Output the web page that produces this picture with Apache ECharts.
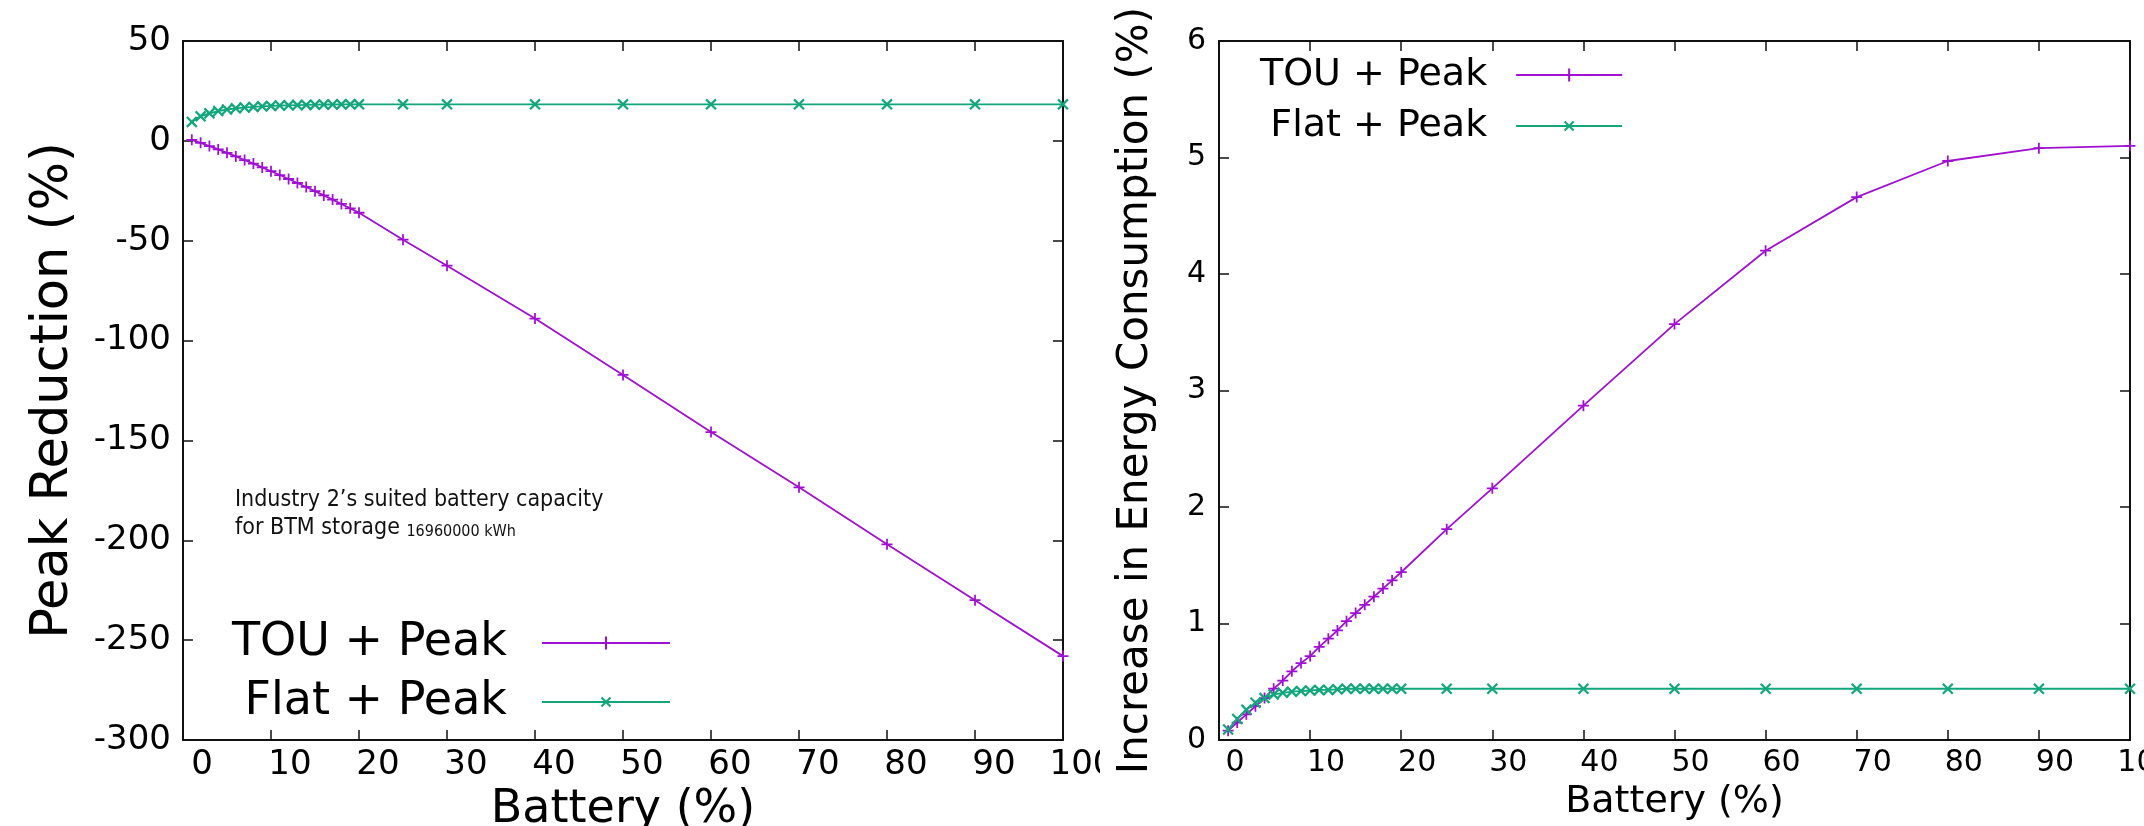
<!DOCTYPE html>
<html>
<head>
<meta charset="utf-8">
<script src="https://cdn.jsdelivr.net/npm/echarts@6/dist/echarts.min.js"></script>
<style>
  body { margin: 0; background: #fff; }
  #leftChart { position: absolute; left: 0; top: 0; width: 1100px; height: 826px; }
  #rightChart { position: absolute; left: 1100px; top: 0; width: 1044px; height: 826px; }
</style>
</head>
<body>
<div id="leftChart"></div>
<div id="rightChart"></div>
<script>
  // battery size, % of the suited capacity
  const battery = [1, 2, 3, 4, 5, 6, 7, 8, 9, 10, 11, 12, 13, 14, 15, 16, 17, 18, 19, 20,
    25, 30, 40, 50, 60, 70, 80, 90, 100]

  // left panel: peak reduction (%)
  const peakTou = [0.5, -1, -2.6, -4.3, -6, -7.8, -9.6, -11.4, -13.3, -15.2, -17.1, -19.1, -21.1, -23.1,
    -25.2, -27.3, -29.4, -31.6, -33.8, -36, -49.5, -62.5, -89, -117.2, -145.8, -173.5, -202, -230, -258]
  const peakFlat = [9.5, 12.3, 13.8, 14.9, 15.7, 16.3, 16.7, 17.0, 17.3, 17.5, 17.7, 17.8, 17.9, 18.0,
    18.1, 18.2, 18.2, 18.3, 18.3, 18.3, 18.3, 18.3, 18.3, 18.3, 18.3, 18.3, 18.3, 18.3, 18.3]

  // right panel: increase in energy consumption (%)
  const energyTou = [0.08, 0.15, 0.22, 0.29, 0.36, 0.44, 0.51, 0.59, 0.66, 0.72, 0.8, 0.87, 0.94, 1.02,
    1.09, 1.16, 1.23, 1.3, 1.37, 1.44, 1.81, 2.16, 2.87, 3.57, 4.2, 4.66, 4.97, 5.08, 5.1]
  const energyFlat = [0.09, 0.18, 0.26, 0.32, 0.36, 0.39, 0.405, 0.415, 0.42, 0.425, 0.43, 0.43, 0.435, 0.44,
    0.44, 0.44, 0.44, 0.44, 0.44, 0.44, 0.44, 0.44, 0.44, 0.44, 0.44, 0.44, 0.44, 0.44, 0.44]

  const seriesNames = ['TOU + Peak', 'Flat + Peak']
  const purple = '#a010d0'
  const green = '#12a67c'
  const font = 'DejaVu Sans'
  const noteFont = '"Liberation Sans Narrow", "DejaVu Sans Condensed", "Liberation Sans"'
  const plusPath = 'path://M0,42h100v16h-100z M42,0h16v100h-16z'

  function pairs(ys) {
    return battery.map((b, i) => [b, ys[i]])
  }

  function buildOption(p) {
    const frame = { show: true, onZero: false, lineStyle: { color: '#111', width: 2 } }
    const tick = { show: true, inside: true, length: 10, lineStyle: { color: '#111', width: 1.5 } }
    const nameStyle = { color: '#000', fontFamily: font }
    return {
      animation: false,
      grid: Object.assign({ containLabel: false, outerBoundsMode: 'none' }, p.grid),
      legend: {
        orient: 'vertical',
        align: 'right',
        left: p.legend.left,
        top: p.legend.top,
        padding: 0,
        itemWidth: p.legend.itemWidth,
        itemHeight: 16,
        itemGap: p.legend.itemGap,
        textStyle: { color: '#000', fontFamily: font, fontSize: p.legend.fontSize, padding: [0, p.legend.textGap, 0, 0] },
        data: seriesNames
      },
      graphic: p.graphic || [],
      xAxis: [
        {
          type: 'value', min: 0, max: 100, interval: 10, position: 'bottom',
          axisLine: frame, axisTick: tick, splitLine: { show: false },
          axisLabel: { color: '#000', fontFamily: font, fontSize: p.xLabelSize, margin: p.xLabelMargin,
            padding: [0, 0, 0, p.xLabelShift * 2] },
          name: 'Battery (%)', nameLocation: 'middle', nameGap: p.xNameGap,
          nameTextStyle: Object.assign({ fontSize: p.xNameSize }, nameStyle)
        },
        {
          type: 'value', min: 0, max: 100, interval: 10, position: 'top',
          axisLine: frame, axisTick: tick, axisLabel: { show: false }, splitLine: { show: false }
        }
      ],
      yAxis: [
        {
          type: 'value', min: p.yMin, max: p.yMax, interval: p.yStep, position: 'left',
          axisLine: frame, axisTick: tick, splitLine: { show: false },
          axisLabel: { color: '#000', fontFamily: font, fontSize: p.yLabelSize, margin: p.yLabelMargin },
          name: p.yName, nameLocation: 'middle', nameGap: p.yNameGap,
          nameTextStyle: Object.assign({ fontSize: p.yNameSize }, nameStyle)
        },
        {
          type: 'value', min: p.yMin, max: p.yMax, interval: p.yStep, position: 'right',
          axisLine: frame, axisTick: tick, axisLabel: { show: false }, splitLine: { show: false }
        }
      ],
      series: [
        {
          name: seriesNames[0], type: 'line', data: pairs(p.tou),
          symbol: plusPath, symbolSize: 11,
          itemStyle: { color: purple },
          lineStyle: { color: purple, width: 1.8 }
        },
        {
          name: seriesNames[1], type: 'line', data: pairs(p.flat),
          symbol: plusPath, symbolSize: 14, symbolRotate: 45,
          itemStyle: { color: green },
          lineStyle: { color: green, width: 1.8 }
        }
      ]
    }
  }

  const leftChart = echarts.init(document.getElementById('leftChart'))
  leftChart.setOption(buildOption({
    grid: { left: 183, top: 41, width: 880, height: 699 },
    tou: peakTou, flat: peakFlat,
    yMin: -300, yMax: 50, yStep: 50,
    yName: 'Peak Reduction (%)', yNameSize: 51, yNameGap: 104,
    yLabelSize: 34, yLabelMargin: 12,
    xLabelSize: 34, xLabelMargin: 8, xLabelShift: 19,
    xNameSize: 46, xNameGap: 47,
    legend: { left: 232, top: 620, itemWidth: 128, itemGap: 13, fontSize: 46, textGap: 30 },
    graphic: [
      { type: 'text', left: 235, top: 489,
        style: { text: 'Industry 2’s suited battery capacity', fill: '#111', font: '23px ' + noteFont } },
      { type: 'text', left: 235, top: 517,
        style: {
          text: '{a|for BTM storage }{b|16960000 kWh}', fill: '#111',
          rich: {
            a: { fontSize: 23, fontFamily: noteFont, fill: '#111', verticalAlign: 'bottom' },
            b: { fontSize: 16, fontFamily: noteFont, fill: '#111', verticalAlign: 'bottom' }
          }
        } }
    ]
  }))

  const rightChart = echarts.init(document.getElementById('rightChart'))
  rightChart.setOption(buildOption({
    grid: { left: 119, top: 41, width: 911, height: 699 },
    tou: energyTou, flat: energyFlat,
    yMin: 0, yMax: 6, yStep: 1,
    yName: 'Increase in Energy Consumption (%)', yNameSize: 42, yNameGap: 62,
    yLabelSize: 30, yLabelMargin: 13,
    xLabelSize: 30, xLabelMargin: 8, xLabelShift: 16,
    xNameSize: 38, xNameGap: 32,
    legend: { left: 160, top: 56, itemWidth: 106, itemGap: 13, fontSize: 38, textGap: 24 }
  }))

  window.addEventListener('resize', () => {
    leftChart.resize()
    rightChart.resize()
  })
</script>
</body>
</html>
